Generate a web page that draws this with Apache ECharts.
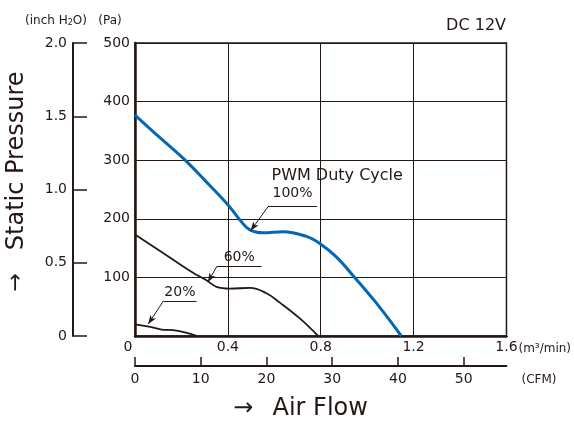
<!DOCTYPE html>
<html>
<head>
<meta charset="utf-8">
<script src="https://cdn.jsdelivr.net/npm/echarts@6/dist/echarts.min.js"></script>
<style>
    html, body { margin: 0; padding: 0; background: #fff; }
    #chart { width: 574px; height: 421px; }
</style>
</head>
<body>
<div id="chart"></div>
<script>
    var FONT = 'DejaVu Sans';
    var INK = '#231815';

    // 100% duty cycle (m3/min, Pa)
    var flow100 = [0, 0.1, 0.208, 0.3, 0.4, 0.452, 0.495, 0.552, 0.638, 0.738, 0.796, 0.867, 0.946, 1.04, 1.147];
    var press100 = [377, 341, 303, 266, 224, 198, 181, 176, 178, 170, 158, 135, 100, 56, 0];
    // 60%
    var flow60 = [0, 0.15, 0.25, 0.308, 0.351, 0.409, 0.495, 0.566, 0.624, 0.71, 0.789];
    var press60 = [173, 134, 108, 95, 84, 81, 82, 73, 57, 30, 0];
    // 20%
    var flow20 = [0, 0.06, 0.115, 0.165, 0.215, 0.268];
    var press20 = [20, 16, 11, 10, 6, 0];

    // tick labels
    var m3Ticks = [0, 0.4, 0.8, 1.2, 1.6];
    var cfmTicks = [0, 10, 20, 30, 40, 50];
    var paTicks = [100, 200, 300, 400, 500];
    var inchTicks = [0, 0.5, 1.0, 1.5, 2.0];

    function pairs(xs, ys) {
        return xs.map(function (x, i) { return [x, ys[i]]; });
    }

    // leader line: underline from a to b, arrow from a to tip
    function leader(a, b, tip, text, dist) {
        return [
            [{coord: a, symbol: 'none',
              label: {show: true, position: 'insideMiddleTop', distance: dist, formatter: text,
                      color: INK, fontSize: 14, fontFamily: FONT}},
             {coord: b, symbol: 'none'}],
            [{coord: a, symbol: 'none', label: {show: false}}, {coord: tip, symbol: 'arrow'}]
        ];
    }

    function markLine(items) {
        return {
            silent: true,
            animation: false,
            symbol: ['none', 'arrow'],
            symbolSize: [5, 9],
            lineStyle: {color: INK, width: 1, type: 'solid'},
            label: {show: false},
            data: items
        };
    }

    var chart = echarts.init(document.getElementById('chart'));
    var option = {
        animation: false,
        textStyle: {fontFamily: FONT, color: INK},
        grid: {
            left: 135, top: 43, right: 67, bottom: 85,
            show: true,
            borderColor: INK,
            borderWidth: 1.5
        },
        graphic: [{
            type: 'text', x: 506, y: 26,
            style: {text: 'DC 12V', fontSize: 16, fontFamily: FONT, fill: INK,
                    align: 'right', textAlign: 'right', verticalAlign: 'middle', textVerticalAlign: 'middle'}
        }, {
            type: 'text', x: 16.5, y: 181.5, rotation: Math.PI / 2,
            style: {text: '{a|→}   Static Pressure', fontSize: 24, fontFamily: FONT, fill: INK,
                    align: 'center', textAlign: 'center', verticalAlign: 'middle', textVerticalAlign: 'middle',
                    rich: {a: {fontSize: 22, fontFamily: FONT, fill: INK}}}
        }, {
            type: 'text', x: 300.5, y: 409,
            style: {text: '{a|→}  Air Flow', fontSize: 24, fontFamily: FONT, fill: INK,
                    align: 'center', textAlign: 'center', verticalAlign: 'middle', textVerticalAlign: 'middle',
                    rich: {a: {fontSize: 24, fontFamily: FONT, fill: INK, padding: [0, 4, 0, 0]}}}
        }],
        xAxis: [{
            type: 'value',
            min: 0, max: 1.6, interval: 0.4,
            position: 'bottom',
            name: '(m³/min)',
            nameLocation: 'end',
            nameGap: 12,
            nameMoveOverlap: false,
            nameTextStyle: {fontSize: 12, color: INK, fontFamily: FONT, verticalAlign: 'top', lineHeight: 26},
            axisLine: {onZero: false, lineStyle: {color: INK, width: 2.5}},
            axisTick: {show: false},
            axisLabel: {
                margin: 4, fontSize: 14, color: INK, fontFamily: FONT,
                customValues: m3Ticks,
                formatter: function (v) { return v === 0 ? '{z|0}' : String(v); },
                rich: {z: {fontSize: 14, color: INK, fontFamily: FONT, padding: [0, 14, 0, 0]}}
            },
            splitLine: {show: true, lineStyle: {color: INK, width: 1}}
        }, {
            type: 'value',
            min: 0, max: 56.5,
            position: 'bottom',
            offset: 30,
            name: '(CFM)',
            nameLocation: 'end',
            nameGap: 15,
            nameMoveOverlap: false,
            nameTextStyle: {fontSize: 12, color: INK, fontFamily: FONT, verticalAlign: 'top', lineHeight: 28},
            axisLine: {onZero: false, lineStyle: {color: INK, width: 2}},
            axisTick: {show: true, inside: true, length: 9, customValues: cfmTicks, lineStyle: {color: INK, width: 1.5}},
            axisLabel: {margin: 6, fontSize: 14, color: INK, fontFamily: FONT, customValues: cfmTicks},
            splitLine: {show: false}
        }],
        yAxis: [{
            type: 'value',
            min: 0, max: 500, interval: 100,
            position: 'left',
            name: '(Pa)',
            nameLocation: 'end',
            nameGap: 16,
            nameTextStyle: {fontSize: 12, color: INK, fontFamily: FONT, align: 'center', padding: [0, 50, 0, 0]},
            axisLine: {onZero: false, lineStyle: {color: INK, width: 2.5}},
            axisTick: {show: false},
            axisLabel: {margin: 5, fontSize: 14, color: INK, fontFamily: FONT, customValues: paTicks},
            splitLine: {show: true, lineStyle: {color: INK, width: 1}}
        }, {
            type: 'value',
            min: 0, max: 2.0, interval: 0.5,
            position: 'left',
            offset: 62,
            name: '(inch H{s|2}O)',
            nameLocation: 'end',
            nameGap: 16,
            nameTextStyle: {
                fontSize: 12, color: INK, fontFamily: FONT, align: 'center', padding: [0, 34, 0, 0],
                rich: {s: {fontSize: 8, color: INK, fontFamily: FONT, verticalAlign: 'bottom', padding: [4, 0, 0, 0]}}
            },
            axisLine: {onZero: false, lineStyle: {color: INK, width: 2}},
            axisTick: {show: true, inside: true, length: 14, customValues: inchTicks, lineStyle: {color: INK, width: 1.5}},
            axisLabel: {
                margin: 6, fontSize: 14, color: INK, fontFamily: FONT, customValues: inchTicks,
                formatter: function (v) { return v === 0 ? '0' : v.toFixed(1); }
            },
            splitLine: {show: false}
        }],
        series: [{
            name: '100%',
            type: 'line',
            xAxisIndex: 0, yAxisIndex: 0,
            data: pairs(flow100, press100),
            smooth: 0.4,
            symbol: 'none',
            lineStyle: {color: '#0068b7', width: 3},
            z: 3,
            markLine: markLine(leader([0.573, 220.6], [0.784, 220.6], [0.498, 179.7], '100%', 6)),
            markPoint: {
                silent: true,
                animation: false,
                data: [{
                    coord: [0.588, 274], symbol: 'circle', symbolSize: 0,
                    itemStyle: {color: 'transparent'},
                    label: {show: true, position: 'right', distance: 0, formatter: 'PWM Duty Cycle',
                            color: INK, fontSize: 16, fontFamily: FONT}
                }]
            }
        }, {
            name: '60%',
            type: 'line',
            xAxisIndex: 0, yAxisIndex: 0,
            data: pairs(flow60, press60),
            smooth: 0.4,
            symbol: 'none',
            lineStyle: {color: INK, width: 1.8},
            markLine: markLine(leader([0.353, 119], [0.545, 119], [0.314, 92], '60%', 1.5))
        }, {
            name: '20%',
            type: 'line',
            xAxisIndex: 0, yAxisIndex: 0,
            data: pairs(flow20, press20),
            smooth: 0.4,
            symbol: 'none',
            lineStyle: {color: INK, width: 1.8},
            markLine: markLine(leader([0.122, 59.7], [0.265, 59.7], [0.057, 20.3], '20%', 1.5))
        }]
    };
    chart.setOption(option);
</script>
</body>
</html>
